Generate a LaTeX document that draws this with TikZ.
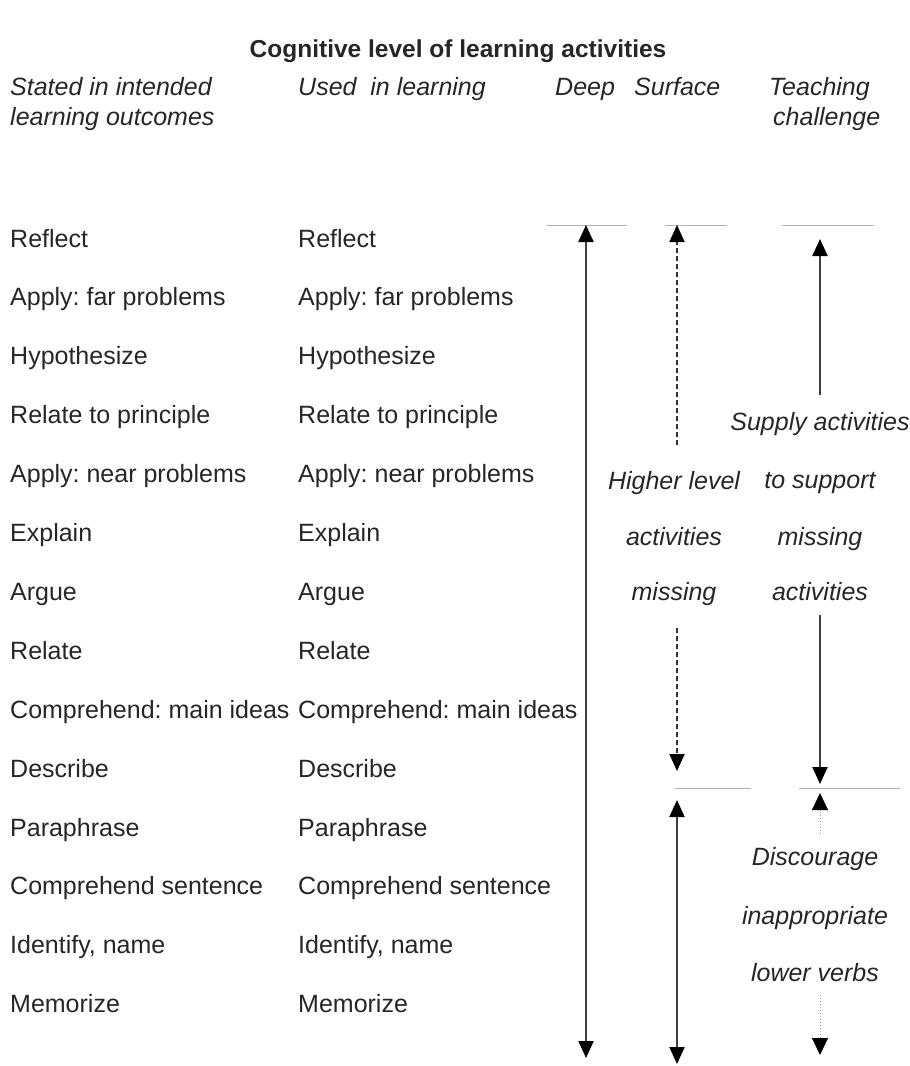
\documentclass[tikz,border=0pt]{standalone}
\usepackage{fontspec}
\setmainfont{Liberation Sans}
\usetikzlibrary{arrows.meta,positioning}
\frenchspacing

\tikzset{
  verb/.style={anchor=base west,inner sep=0pt,text=black!85,font=\fontsize{25}{30}\selectfont},
  colhead/.style={anchor=base west,inner sep=0pt,text=black!85,font=\fontsize{25}{30}\selectfont\itshape},
  note/.style={anchor=base,inner sep=0pt,text=black!85,font=\fontsize{25}{30}\selectfont\itshape},
  level/.style={draw=black!30,line width=0.9pt},
  tip/.tip={Triangle[width=15pt,length=17pt,color=black]},
  reach/.style={draw=black!75,line width=2.2pt,tip-tip},
  upline/.style={draw=black!75,line width=2.2pt,-tip},
  dashup/.style={draw=black!80,line width=1.8pt,dash pattern=on 5pt off 3pt,-tip},
  faint/.style={draw=black!40,line width=1pt,dotted,-{Triangle[width=16pt,length=17pt,color=black]}}
}

\begin{document}
\begin{tikzpicture}[x=1pt,y=-1pt]
  \useasboundingbox (0,0) rectangle (910,1066);

  % title and column heads
  \node (title) at (458,51) [text=black!85,font=\fontsize{24.5}{29}\selectfont\bfseries] {Cognitive level of learning activities};
  \node (stated) at (10,95) [colhead] {Stated in intended};
  \node (stated2) at (10,125) [colhead] {learning outcomes};
  \node (used) at (298,95) [colhead] {Used\ \ in learning};
  \node (deep) at (555,95) [colhead] {Deep};
  \node (surface) at (634,95) [colhead] {Surface};
  \node (teach) at (769,95) [colhead] {Teaching};
  \node (teach2) at (773,125) [colhead] {challenge};

  % the two columns of verbs
  \foreach \v [count=\i from 0] in {Reflect, {Apply: far problems}, Hypothesize,
      {Relate to principle}, {Apply: near problems}, Explain, Argue, Relate,
      {Comprehend: main ideas}, Describe, Paraphrase, {Comprehend sentence},
      {Identify, name}, Memorize} {
    \node (s\i) at (10,247+58.9*\i) [verb] {\v};
    \node (u\i) at (298,247+58.9*\i) [verb] {\v};
  }

  % level marks
  \coordinate (dl1) at (547,225);  \coordinate (dl2) at (627,225);
  \coordinate (sl1) at (665,225);  \coordinate (sl2) at (727,225);
  \coordinate (tl1) at (782,225);  \coordinate (tl2) at (874,225);
  \coordinate (ml1) at (675,788);  \coordinate (ml2) at (751,788);
  \coordinate (ml3) at (799,788);  \coordinate (ml4) at (900,788);
  \draw[level] (dl1) -- (dl2);
  \draw[level] (sl1) -- (sl2);
  \draw[level] (tl1) -- (tl2);
  \draw[level] (ml1) -- (ml2);
  \draw[level] (ml3) -- (ml4);

  % deep
  \coordinate (deeptop) at (586,225);
  \coordinate (deepbot) at (586,1058);
  \draw[reach] (deeptop) -- (deepbot);

  % surface
  \node (hi1) at (674,489) [note] {Higher level};
  \node (hi2) at (674,545) [note] {activities};
  \node (hi3) at (674,600) [note] {missing};
  \coordinate (surftop) at (677,225);
  \coordinate (surfa) at (677,445);
  \coordinate (surfb) at (677,628);
  \coordinate (surfmid) at (677,771);
  \coordinate (surflow) at (677,800);
  \coordinate (surfbot) at (677,1064);
  \draw[dashup] (surfa) -- (surftop);
  \draw[dashup] (surfb) -- (surfmid);
  \draw[reach] (surflow) -- (surfbot);

  % teaching challenge
  \node (sup1) at (820,430) [note] {Supply activities};
  \node (sup2) at (820,488) [note] {to support};
  \node (sup3) at (820,545) [note] {missing};
  \node (sup4) at (820,600) [note] {activities};
  \node (dis1) at (815,865) [note] {Discourage};
  \node (dis2) at (815,924) [note] {inappropriate};
  \node (dis3) at (815,981) [note] {lower verbs};
  \coordinate (teachtop) at (820,239);
  \coordinate (teacha) at (820,395);
  \coordinate (teachb) at (820,615);
  \coordinate (teachmid) at (820,784);
  \coordinate (teachlow) at (820,793);
  \coordinate (teachc) at (820,834);
  \coordinate (teachd) at (820,995);
  \coordinate (teachbot) at (820,1055);
  \draw[upline] (teacha) -- (teachtop);
  \draw[upline] (teachb) -- (teachmid);
  \draw[faint] (teachc) -- (teachlow);
  \draw[faint] (teachd) -- (teachbot);
\end{tikzpicture}
\end{document}
